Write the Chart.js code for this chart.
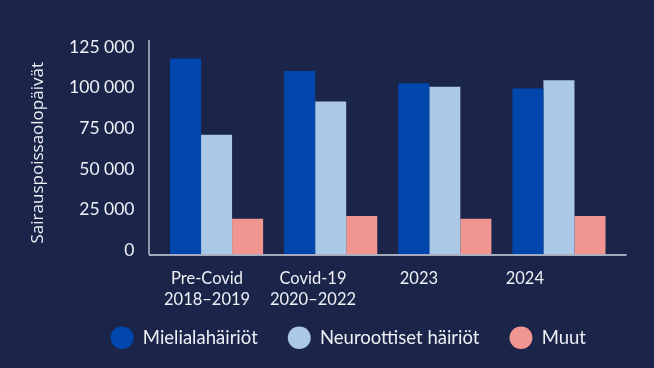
<!DOCTYPE html>
<html>
<head>
<meta charset="utf-8">
<script src="https://cdn.jsdelivr.net/npm/chart.js@4"></script>
<style>
  html, body { margin: 0; padding: 0; background: #1b2549; }
  #wrap { width: 654px; height: 368px; }
</style>
</head>
<body>
<div id="wrap"><canvas id="chart" width="654" height="368"></canvas></div>
<script>
const categories = [["Pre-Covid", "2018–2019"], ["Covid-19", "2020–2022"], "2023", "2024"];
const seriesNames = ["Mielialahäiriöt", "Neuroottiset häiriöt", "Muut"];
const mieliala = [120400, 112700, 105200, 101900];
const neuroottiset = [73500, 94000, 103000, 107000];
const muut = [22000, 23700, 22000, 23700];
const yTicks = [0, 25000, 50000, 75000, 100000, 125000];
const yTitle = "Sairauspoissaolopäivät";

const colors = ["#0046ad", "#abc9e6", "#f09590"];
const textColor = "#eef0f6";
const font = "Lato, 'Open Sans', sans-serif";

const fmt = (v) => String(v).replace(/\B(?=(\d{3})+(?!\d))/g, " ");

// axis lines sit a little outside the plot area in the original
const axisLines = {
  id: "axisLines",
  afterLayout(chart) {
    // legend sits closer to the category labels than chart.js allows
    chart.legend.top -= 16;
    chart.legend.bottom -= 16;
  },
  afterDraw(chart) {
    const { ctx, chartArea: a } = chart;
    ctx.save();
    ctx.strokeStyle = "#b9bdcc";
    ctx.lineWidth = 1.5;
    ctx.beginPath();
    ctx.moveTo(149, 40);
    ctx.lineTo(149, a.bottom);
    ctx.stroke();
    ctx.strokeStyle = "#d4d7e2";
    ctx.lineWidth = 1.6;
    ctx.beginPath();
    ctx.moveTo(149, a.bottom + 0.5);
    ctx.lineTo(a.right + 10.5, a.bottom + 0.5);
    ctx.stroke();
    ctx.restore();
  },
};

new Chart(document.getElementById("chart"), {
  type: "bar",
  plugins: [axisLines],
  data: {
    labels: categories,
    datasets: [
      { label: seriesNames[0], data: mieliala, backgroundColor: colors[0] },
      { label: seriesNames[1], data: neuroottiset, backgroundColor: colors[1] },
      { label: seriesNames[2], data: muut, backgroundColor: colors[2] },
    ],
  },
  options: {
    responsive: false,
    animation: false,
    layout: { padding: { top: 51, right: 38, bottom: -5, left: 0 } },
    datasets: {
      bar: { barPercentage: 1, categoryPercentage: 0.816 },
    },
    scales: {
      x: { display: false },
      xl: {
        type: "linear",
        position: "bottom",
        offset: false,
        min: -0.449,
        max: 3.861,
        grid: { display: false, drawTicks: false, offset: false },
        border: { display: false },
        afterBuildTicks: (axis) => {
          axis.ticks = categories.map((_, i) => ({ value: i }));
        },
        afterFit: (axis) => {
          axis.height = 60;
        },
        ticks: {
          color: textColor,
          font: { family: font, size: 16.5, lineHeight: 1.32 },
          padding: 13,
          autoSkip: false,
          maxRotation: 0,
          callback: (v) => categories[v],
        },
      },
      y: {
        min: 0,
        max: 125000,
        grid: { display: false, drawTicks: false },
        border: { display: false },
        afterBuildTicks: (axis) => {
          axis.ticks = yTicks.map((v) => ({ value: v }));
        },
        afterFit: (axis) => {
          axis.width = 159.5;
        },
        ticks: {
          color: textColor,
          font: { family: font, size: 17.5 },
          padding: 25,
          labelOffset: -4,
          callback: (v) => fmt(v),
        },
        title: {
          display: true,
          text: yTitle,
          color: textColor,
          font: { family: "'Open Sans', Lato, sans-serif", size: 17 },
          padding: { top: 28, bottom: 0 },
        },
      },
    },
    plugins: {
      tooltip: { enabled: false },
      legend: {
        position: "bottom",
        align: "end",
        labels: {
          color: textColor,
          font: { family: font, size: 18.5 },
          usePointStyle: true,
          pointStyle: "circle",
          pointStyleWidth: 23,
          boxHeight: 16,
          padding: 30,
        },
      },
    },
  },
});
</script>
</body>
</html>
